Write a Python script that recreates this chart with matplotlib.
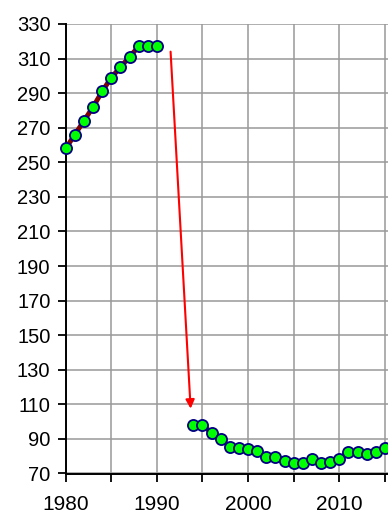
import numpy as np
import matplotlib
matplotlib.use("Agg")
from matplotlib import pyplot as plt
from matplotlib import rcParams

rcParams['font.family'] = ['Liberation Sans', 'DejaVu Sans']
rcParams['font.size'] = 14

# early series, yearly 1980-1990
years_a = list(range(1980, 1991))
vals_a = [258, 266, 274, 282, 291, 299, 305, 311, 317, 317, 317]

# later series, yearly 1994-2015
years_b = list(range(1994, 2016))
vals_b = [98, 98, 93.5, 90, 85.5, 85, 84, 83, 79.5, 79.5, 77.5, 76,
          76.3, 78.5, 76.2, 76.4, 78.5, 82.2, 82.2, 81, 82.5, 84.6]

# drop arrow: start and end (year, value)
arrow_start = (1991.5, 314)
arrow_end = (1993.7, 107.5)

xticks = list(range(1980, 2016, 5))
xlabels = ['1980', '', '1990', '', '2000', '', '2010', '']
yticks = list(range(70, 331, 20))

fig = plt.figure(figsize=(3.88, 5.16), dpi=100)
ax = fig.add_axes([65.7 / 388, 1 - 473.5 / 516, 1 - 65.7 / 388, (473.5 - 24) / 516])

for xs, ys in [(years_a, vals_a), (years_b, vals_b)]:
    ax.plot(xs, ys, '-', color='#800000', lw=3.5, zorder=3)
    ax.plot(xs, ys, 'o', ms=8, mfc='#00ff00', mec='#000080', mew=1.3, zorder=4,
            clip_on=False)

ax.annotate('', xy=arrow_end, xytext=arrow_start,
            arrowprops=dict(arrowstyle='-|>', color='red', lw=1.5,
                            mutation_scale=13, shrinkA=0, shrinkB=0),
            zorder=5)

ax.set_xlim(1980, 1980 + (388 - 65.7) / 9.12)
ax.set_ylim(70, 330)
ax.set_xticks(xticks)
ax.set_xticklabels(xlabels)
ax.set_yticks(yticks)

ax.grid(True, color='#999999', lw=1.1, zorder=0)
ax.set_axisbelow(True)
for s in ['top', 'right']:
    ax.spines[s].set_visible(False)
for s in ['left', 'bottom']:
    ax.spines[s].set_linewidth(1.4)
    ax.spines[s].set_color('black')
    ax.spines[s].set_zorder(2)

ax.tick_params(axis='both', direction='out', length=5.5, width=1.3, color='black')
ax.tick_params(axis='x', pad=10, labelsize=15)
ax.tick_params(axis='y', pad=5.5, labelsize=14.5)

plt.savefig('out.png', dpi=100)
